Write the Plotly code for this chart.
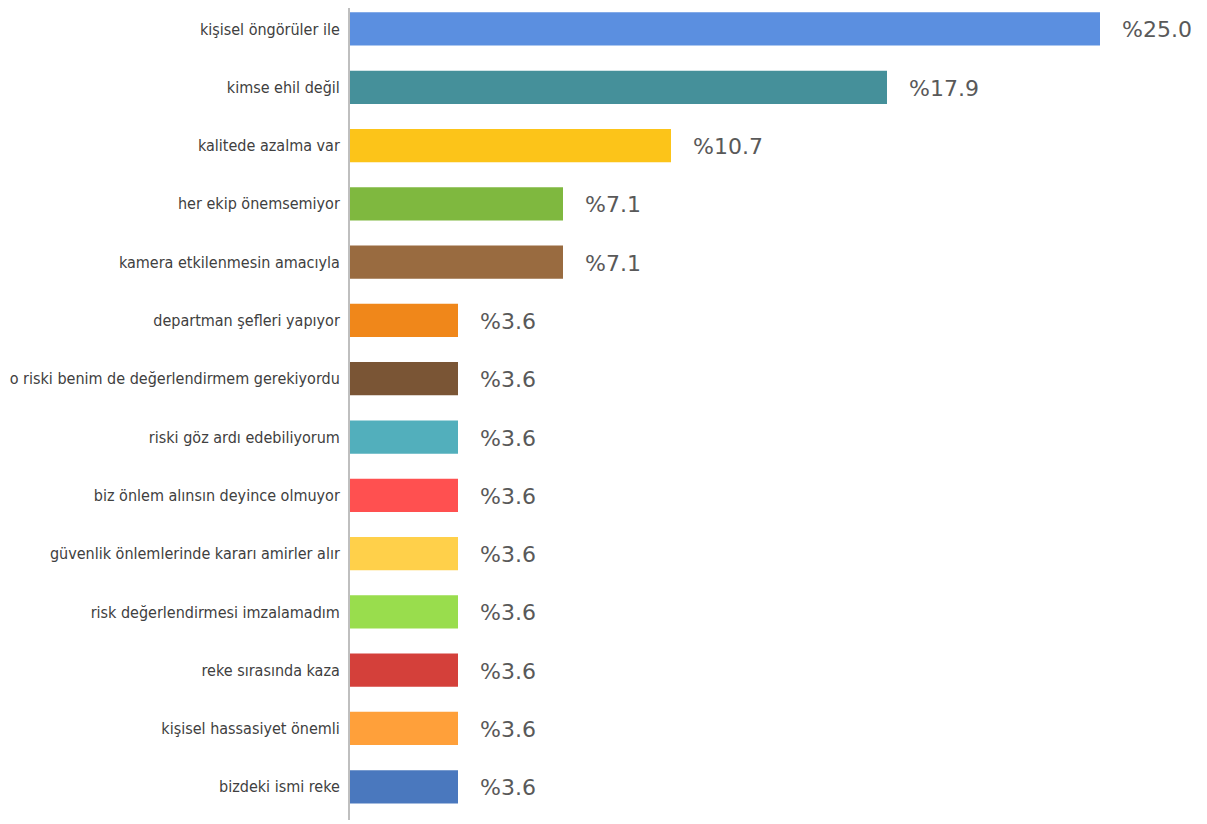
import plotly.graph_objects as go

categories = [
    "kişisel öngörüler ile",
    "kimse ehil değil",
    "kalitede azalma var",
    "her ekip önemsemiyor",
    "kamera etkilenmesin amacıyla",
    "departman şefleri yapıyor",
    "o riski benim de değerlendirmem gerekiyordu",
    "riski göz ardı edebiliyorum",
    "biz önlem alınsın deyince olmuyor",
    "güvenlik önlemlerinde kararı amirler alır",
    "risk değerlendirmesi imzalamadım",
    "reke sırasında kaza",
    "kişisel hassasiyet önemli",
    "bizdeki ismi reke",
]
values = [25.0, 17.9, 10.7, 7.1, 7.1, 3.6, 3.6, 3.6, 3.6, 3.6, 3.6, 3.6, 3.6, 3.6]
colors = [
    "#5B8FE0", "#45909A", "#FCC419", "#7FB83F", "#996B40", "#F0871A", "#7A5535",
    "#52AFBC", "#FF5050", "#FFD04A", "#99DD4D", "#D4403A", "#FFA03A", "#4A78BE",
]

fig = go.Figure()
fig.add_trace(go.Bar(
    y=categories, x=values, orientation="h",
    marker=dict(color=colors, line=dict(width=0)),
    width=0.57,
    hoverinfo="skip",
))

for c, v in zip(categories, values):
    fig.add_annotation(
        x=v, y=c, text=f"%{v:.1f}", showarrow=False,
        xanchor="left", yanchor="middle", xshift=20, yshift=-1,
        font=dict(family="DejaVu Sans", size=22, color="#595959"),
    )

fig.update_layout(
    width=1199, height=816,
    margin=dict(l=342, r=0, t=0, b=4),
    plot_bgcolor="white", paper_bgcolor="white",
    showlegend=False,
)
fig.update_xaxes(range=[0, 857 / 30], visible=False, showgrid=False, zeroline=False)
fig.update_yaxes(
    range=[13.57, -0.36], automargin=False,
    showline=True, linecolor="#BFBFBF", linewidth=2,
    ticks="", ticklabelstandoff=5,
    tickfont=dict(family="DejaVu Sans Condensed", size=16, color="#404040"),
    showgrid=False, zeroline=False,
)

fig.write_html("out.html")
